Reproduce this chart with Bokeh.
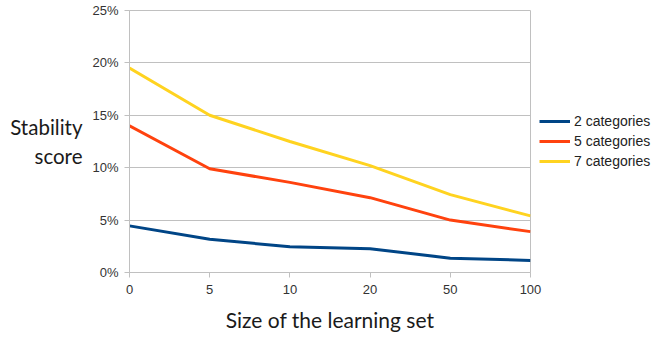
from bokeh.plotting import figure
from bokeh.models import Legend, LegendItem, FixedTicker, Range1d
from bokeh.embed import file_html
from bokeh.resources import INLINE

sizes = ["0", "5", "10", "20", "50", "100"]
cat2 = [4.45, 3.17, 2.46, 2.27, 1.37, 1.15]
cat5 = [14.0, 9.9, 8.6, 7.14, 5.0, 3.9]
cat7 = [19.5, 15.0, 12.5, 10.2, 7.43, 5.4]
series_names = ["2 categories", "5 categories", "7 categories"]
colors = ["#004586", "#ff420e", "#ffd320"]
yticks = [0, 5, 10, 15, 20, 25]

xs = list(range(len(sizes)))

p = figure(frame_width=401, frame_height=262, output_backend="svg", toolbar_location=None,
           x_range=Range1d(0, len(sizes) - 1), y_range=Range1d(0, 25))
p.min_border_left = 129
p.min_border_right = 0
p.min_border_top = 10
p.min_border_bottom = 68
p.background_fill_color = "white"
p.border_fill_color = "white"
p.outline_line_color = "#c0c0c0"
p.outline_line_width = 1

grid_col = "#c0c0c0"
p.xgrid.grid_line_color = None
p.ygrid.grid_line_color = grid_col
p.ygrid.ticker = FixedTicker(ticks=yticks)

p.xaxis.ticker = FixedTicker(ticks=xs)
p.xaxis.major_label_overrides = {i: s for i, s in enumerate(sizes)}
p.yaxis.ticker = FixedTicker(ticks=yticks)
p.yaxis.major_label_overrides = {t: f"{t}%" for t in yticks}

for ax in (p.xaxis, p.yaxis):
    ax.axis_line_color = grid_col
    ax.major_tick_line_color = grid_col
    ax.minor_tick_line_color = None
    ax.major_tick_in = 0
    ax.major_tick_out = 5
    ax.major_label_text_font = "Liberation Sans"
    ax.major_label_text_font_size = "13px"
    ax.major_label_text_color = "#333333"
    ax.axis_label_text_font = "Lato"
    ax.axis_label_text_font_style = "normal"
    ax.axis_label_text_color = "#1a1a1a"
p.xaxis.major_label_standoff = 7
p.yaxis.major_label_standoff = 6

p.xaxis.axis_label = "Size of the learning set"
p.xaxis.axis_label_text_font_size = "21px"
p.xaxis.axis_label_standoff = 10
p.yaxis.axis_label = "Stability\nscore"
p.yaxis.axis_label_text_font_size = "20.5px"
p.yaxis.axis_label_orientation = "horizontal"
p.yaxis.axis_label_text_align = "center"
p.yaxis.axis_label_standoff = 7

items = []
for name, vals, c in zip(series_names, [cat2, cat5, cat7], colors):
    r = p.line(xs, vals, line_color=c, line_width=3)
    items.append(LegendItem(label=name, renderers=[r]))

legend = Legend(items=items, location="center_left")
legend.border_line_color = None
legend.background_fill_alpha = 0
legend.label_text_font = "Liberation Sans"
legend.label_text_font_size = "14px"
legend.label_text_color = "#222222"
legend.glyph_width = 31
legend.glyph_height = 20
legend.label_height = 20
legend.label_standoff = 4
legend.spacing = 0
legend.padding = 4
legend.margin = 9
p.add_layout(legend, "right")

open("out.html", "w").write(file_html(p, INLINE))
